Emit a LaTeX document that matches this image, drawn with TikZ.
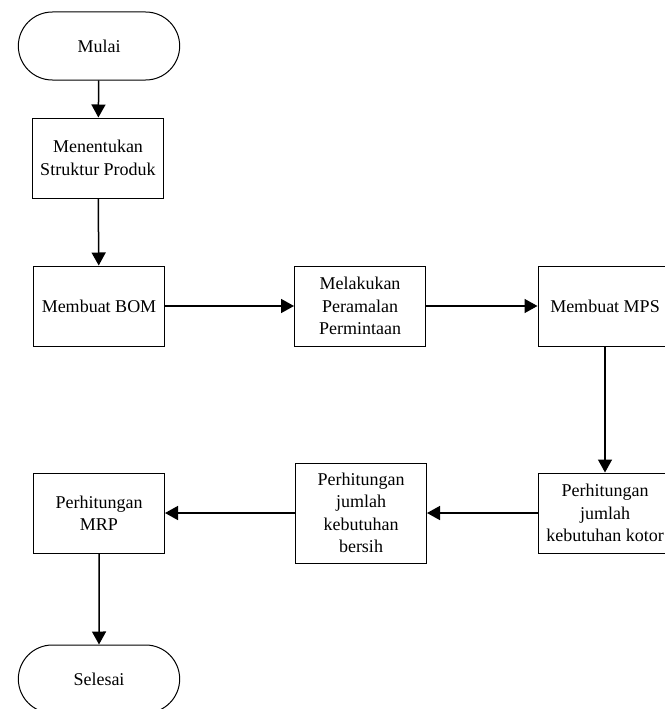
\documentclass[tikz,border=0pt]{standalone}
\usepackage{fontspec}
\setmainfont{Liberation Serif}
\usetikzlibrary{shapes.misc,arrows.meta}

\begin{document}
\begin{tikzpicture}[x=1pt, y=-1pt,
    font=\fontsize{18}{22.5}\selectfont,
    terminal/.style={draw, rounded rectangle, line width=1pt, minimum width=168pt, minimum height=68pt},
    process/.style={draw, rectangle, line width=1pt, align=center, inner sep=2pt, minimum width=131pt, minimum height=80pt},
    flow/.style={line width=1.5pt, -{Triangle[width=14pt, length=13pt]}}]
                    \useasboundingbox (0,0) rectangle (664,709);
                    \node[terminal] (mulai) at (99,46) {Mulai};
                    \node[process] (struktur) at (98,158) {Menentukan\\Struktur Produk};
                    \node[process] (bom) at (99,306) {Membuat BOM};
                    \node[process] (ramal) at (360,306) {Melakukan\\Peramalan\\Permintaan};
                    \node[process, minimum width=134pt] (mps) at (605,306) {Membuat MPS};
                    \node[process, minimum width=134pt] (kotor) at (605,513) {Perhitungan\\jumlah\\kebutuhan kotor};
                    \node[process, minimum height=100pt] (bersih) at (361,513) {Perhitungan\\jumlah\\kebutuhan\\bersih};
                    \node[process] (mrp) at (99,513) {Perhitungan\\MRP};
                    \node[terminal] (selesai) at (99,679) {Selesai};
                    % main flow
                    \draw[flow] (mulai) -- (struktur);
                    \draw[flow] (struktur) -- (bom);
                    \draw[flow] (bom) -- (ramal);
                    \draw[flow] (ramal) -- (mps);
                    \draw[flow] (mps) -- (kotor);
                    \draw[flow] (kotor) -- (bersih);
                    \draw[flow] (bersih) -- (mrp);
                    \draw[flow] (mrp) -- (selesai);
                \end{tikzpicture}
\end{document}
